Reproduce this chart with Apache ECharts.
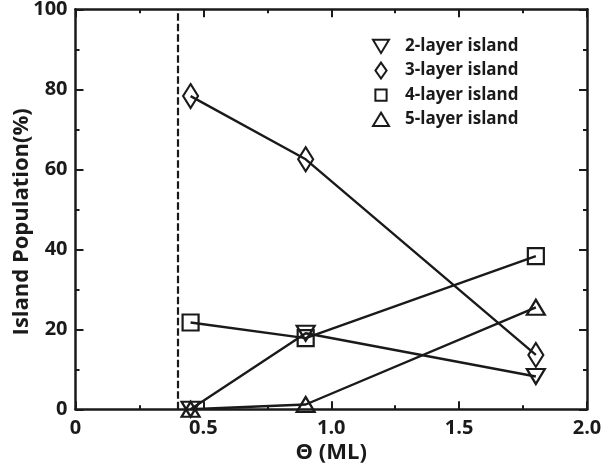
<!DOCTYPE html>
<html>
<head>
<meta charset="utf-8">
<script src="https://cdn.jsdelivr.net/npm/echarts@6/dist/echarts.min.js"></script>
<style>
  html, body { margin: 0; padding: 0; background: #fff; }
  #chart { width: 604px; height: 463px; }
</style>
</head>
<body>
<div id="chart"></div>
<script>
// Coverage (ML) at which island populations were counted
const theta = [0.45, 0.9, 1.8];

// Island population (%) by island height
const layer2 = [0, 19.0, 8.2];
const layer3 = [78.3, 62.5, 13.6];
const layer4 = [21.7, 17.8, 38.3];
const layer5 = [0, 1.2, 25.5];

const seriesNames = ['2-layer island', '3-layer island', '4-layer island', '5-layer island'];

// Critical coverage marked by the dashed line
const criticalTheta = 0.4;

const ink = '#1a1a1a';
const font = '"Open Sans", "DejaVu Sans", sans-serif';

const pair = (ys) => theta.map((x, i) => [x, ys[i]]);

function makeSeries(name, ys, symbol, size, rotate) {
  return {
    name: name,
    type: 'line',
    data: pair(ys),
    symbol: symbol,
    symbolSize: size,
    symbolRotate: rotate || 0,
    showAllSymbol: true,
    lineStyle: { color: ink, width: 2.4 },
    itemStyle: { color: 'rgba(0,0,0,0)', borderColor: ink, borderWidth: 2.2 },
    emphasis: { disabled: true },
    animation: false,
    z: 3
  };
}

// Frame axes: ticks point into the plot on all four sides
const frame = {
  axisLine: { show: true, onZero: false, lineStyle: { color: ink, width: 2.5 } },
  axisTick: { show: true, inside: true, length: 8, lineStyle: { color: ink, width: 2 } },
  minorTick: { show: true, splitNumber: 2, length: 4, lineStyle: { color: ink, width: 2 } },
  splitLine: { show: false },
  minorSplitLine: { show: false }
};

const labelStyle = { color: ink, fontFamily: font, fontWeight: 'bold', fontSize: 20 };
const nameStyle = { color: ink, fontFamily: font, fontWeight: 'bold', fontSize: 22 };

const chart = echarts.init(document.getElementById('chart'), null, { renderer: 'canvas' });

const series = [
  makeSeries(seriesNames[0], layer2, 'triangle', [18, 15], 180),
  makeSeries(seriesNames[1], layer3, 'diamond', [15, 24]),
  makeSeries(seriesNames[2], layer4, 'rect', [16, 16]),
  makeSeries(seriesNames[3], layer5, 'triangle', [18, 15])
];

series[0].markLine = {
  silent: true,
  symbol: 'none',
  label: { show: false },
  lineStyle: { color: ink, width: 2.2, type: [7.5, 3] },
  data: [{ xAxis: criticalTheta }],
  animation: false
};

chart.setOption({
  backgroundColor: '#fff',
  grid: { left: 75.5, right: 17, top: 9.3, bottom: 53.7, outerBoundsMode: 'none', containLabel: false },
  legend: {
    orient: 'vertical',
    left: 367,
    top: 33,
    itemWidth: 16,
    itemHeight: 16,
    itemGap: 6.6,
    selectedMode: false,
    symbolKeepAspect: true,
    itemStyle: { color: 'rgba(0,0,0,0)', borderColor: ink, borderWidth: 2 },
    textStyle: { color: ink, fontFamily: font, fontWeight: 'bold', fontSize: 17, padding: [0, 0, 0, 11] },
    data: [
      { name: seriesNames[0], icon: 'path://M0,0L18,0L9,15Z' },
      { name: seriesNames[1], icon: 'path://M7,0L14,10L7,20L0,10Z' },
      { name: seriesNames[2], icon: 'path://M-3,-3M0,0L14,0L14,14L0,14ZM17,17' },
      { name: seriesNames[3], icon: 'path://M9,0L18,15L0,15Z' }
    ]
  },
  xAxis: [
    Object.assign({
      type: 'value', position: 'bottom', min: 0, max: 2, interval: 0.5,
      name: 'Θ (ML)', nameLocation: 'middle', nameGap: 32, nameMoveOverlap: false,
      nameTextStyle: nameStyle,
      axisLabel: Object.assign({ margin: 9, formatter: v => (v === 0 ? '0' : v.toFixed(1)) }, labelStyle)
    }, frame),
    Object.assign({
      type: 'value', position: 'top', min: 0, max: 2, interval: 0.5,
      axisLabel: { show: false }
    }, frame)
  ],
  yAxis: [
    Object.assign({
      type: 'value', position: 'left', min: 0, max: 100, interval: 20,
      name: 'Island Population(%)', nameLocation: 'middle', nameGap: 43, nameMoveOverlap: false,
      nameTextStyle: Object.assign({ padding: [0, 25, 0, 0] }, nameStyle),
      axisLabel: Object.assign({ margin: 8 }, labelStyle)
    }, frame),
    Object.assign({
      type: 'value', position: 'right', min: 0, max: 100, interval: 20,
      axisLabel: { show: false }
    }, frame)
  ],
  series: series
});
</script>
</body>
</html>
